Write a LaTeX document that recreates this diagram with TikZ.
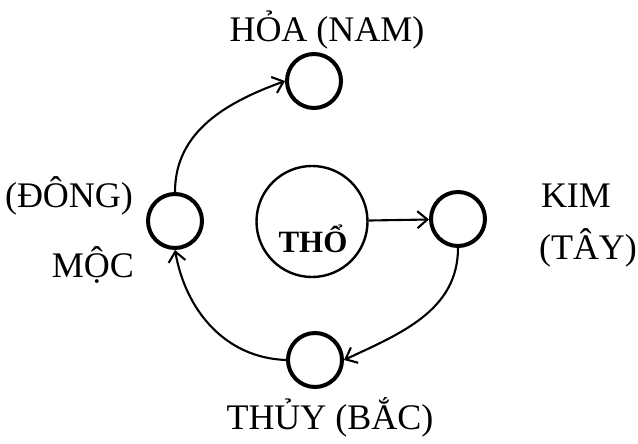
\documentclass[tikz,border=0pt]{standalone}
\usepackage{fontspec}
\setmainfont{Liberation Serif}
\usetikzlibrary{positioning, arrows.meta}

\begin{document}
\begin{tikzpicture}[x=1pt, y=1pt,
  elem/.style={circle, draw, line width=4pt, minimum size=54pt, inner sep=0pt},
  core/.style={circle, draw, line width=2.4pt, minimum size=111pt, inner sep=0pt},
  lab/.style={anchor=base, inner sep=0pt, font=\fontsize{36}{40}\selectfont},
  flow/.style={line width=2.1pt, -{Straight Barb[length=10pt, width=17pt]}}
]
  \useasboundingbox (0,0) rectangle (638,444);

  % five elements
  \node[elem] (hoa)  at (314,363) {};
  \node[elem] (moc)  at (175,223) {};
  \node[elem] (kim)  at (458,225) {};
  \node[elem] (thuy) at (315,84)  {};
  \node[core] (tho)  at (312,222.5) {};

  % labels
  \node[lab] (lhoa)  at (327,402) {HỎA (NAM)};
  \node[lab] (ldong) at (69,236)  {(ĐÔNG)};
  \node[lab] (lmoc)  at (93,166)  {MỘC};
  \node[lab] (lkim)  at (576,236) {KIM};
  \node[lab] (ltay)  at (588,184) {(TÂY)};
  \node[lab] (lthuy) at (330,14)  {THỦY (BẮC)};
  \node[anchor=base, inner sep=0pt, font=\fontsize{31}{34}\selectfont\bfseries] (ltho) at (313,191) {THỔ};

  % cycle
  \draw[flow] (tho) -- (kim);
  \draw[flow] (moc.north) to[out=90, in=200] (hoa.west);
  \draw[flow] (kim.south) to[out=270, in=25] (thuy.east);
  \draw[flow] (thuy.west) to[out=178, in=280] (moc.south);
\end{tikzpicture}
\end{document}
